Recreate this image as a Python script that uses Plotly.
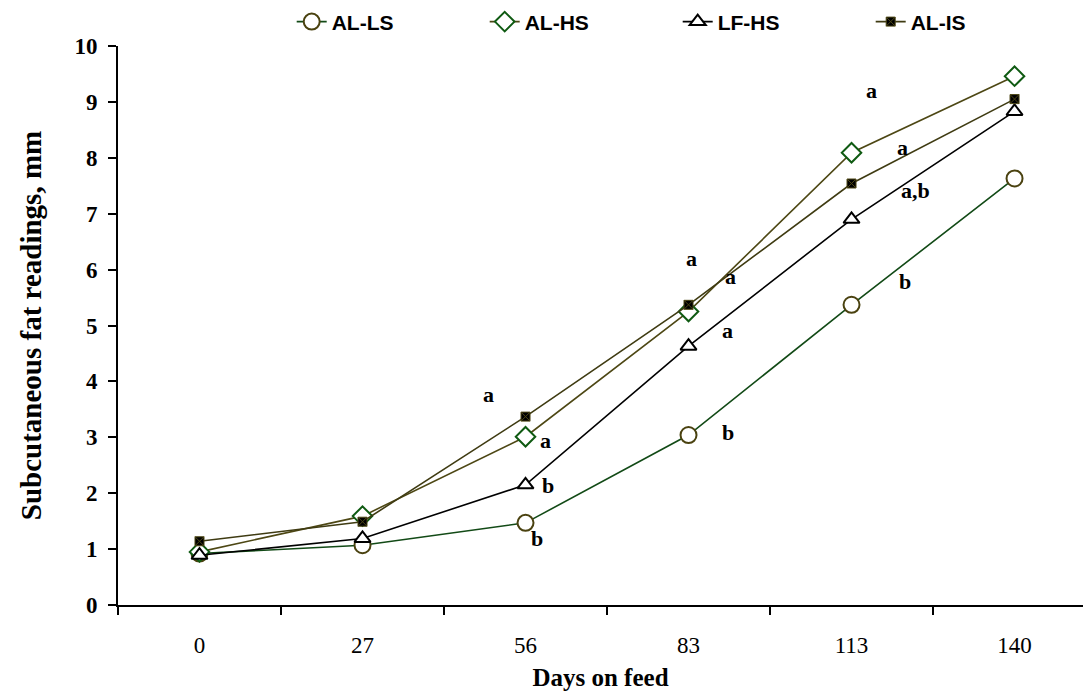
import plotly.graph_objects as go

# Days on feed (categorical x axis)
days = ["0", "27", "56", "83", "113", "140"]

# Subcutaneous fat readings (mm) per treatment
al_ls = [0.92, 1.07, 1.47, 3.04, 5.37, 7.63]
al_hs = [0.95, 1.59, 3.01, 5.25, 8.09, 9.46]
lf_hs = [0.89, 1.19, 2.15, 4.63, 6.90, 8.83]
al_is = [1.14, 1.49, 3.37, 5.37, 7.54, 9.05]

# Significance letters: (category index, y value, text)
sig_x = [1.77, 2.12, 2.135, 2.07, 3.02, 3.26, 3.24, 3.24, 4.12, 4.31, 4.39, 4.33]
sig_y = [3.76, 2.94, 2.13, 1.19, 6.19, 5.87, 4.91, 3.08, 9.20, 8.19, 7.41, 5.78]
sig_t = ["a", "a", "b", "b", "a", "a", "a", "b", "a", "a", "a,b", "b"]

SERIF = "Liberation Serif, Times New Roman, serif"
SANS = "Liberation Sans, Arial, sans-serif"

fig = go.Figure()

fig.add_trace(go.Scatter(
    x=days, y=al_ls, name="<b>AL-LS</b>", mode="lines+markers",
    line=dict(color="#124a16", width=1.6),
    marker=dict(symbol="circle", size=16, color="white",
                line=dict(color="#4a4210", width=2)),
))
fig.add_trace(go.Scatter(
    x=days, y=al_hs, name="<b>AL-HS</b>", mode="lines+markers",
    line=dict(color="#4d4714", width=1.6),
    marker=dict(symbol="diamond", size=15, color="white",
                line=dict(color="#0f5a12", width=2)),
))
fig.add_trace(go.Scatter(
    x=days, y=lf_hs, name="<b>LF-HS</b>", mode="lines+markers",
    line=dict(color="black", width=1.6),
    marker=dict(symbol="triangle-up", size=14, color="white",
                line=dict(color="black", width=2)),
))
fig.add_trace(go.Scatter(
    x=days, y=al_is, name="<b>AL-IS</b>", mode="lines+markers",
    line=dict(color="#3f3b12", width=1.6),
    marker=dict(symbol="square-x", size=9, color="black",
                line=dict(color="#4d4714", width=1)),
))

for xv, yv, tv in zip(sig_x, sig_y, sig_t):
    fig.add_annotation(
        x=xv, y=yv, text=f"<b>{tv}</b>", showarrow=False,
        font=dict(family=SERIF, size=22, color="black"),
    )

fig.update_layout(
    width=1083, height=700,
    margin=dict(l=118, r=0, t=46, b=95),
    paper_bgcolor="white", plot_bgcolor="white",
    showlegend=True,
    legend=dict(
        orientation="h", x=0.18, y=1.043, xanchor="left", yanchor="middle",
        font=dict(family=SANS, size=21, color="black"),
        entrywidth=148, entrywidthmode="pixels",
        bgcolor="rgba(0,0,0,0)", itemclick=False,
    ),
    xaxis=dict(
        type="category", range=[-0.5, 5.42],
        showline=True, linecolor="black", linewidth=2,
        ticks="outside", tickson="boundaries", ticklen=8, tickwidth=1.5,
        tickcolor="black", showgrid=False, zeroline=False,
        ticklabelstandoff=18,
        tickfont=dict(family=SERIF, size=23, color="black"),
        title=dict(text="<b>Days on feed</b>",
                   font=dict(family=SERIF, size=25, color="black"),
                   standoff=12),
    ),
    yaxis=dict(
        range=[0, 10], dtick=1,
        showline=True, linecolor="black", linewidth=2,
        ticks="outside", ticklen=8, tickwidth=1.5, tickcolor="black",
        showgrid=False, zeroline=False,
        ticklabelstandoff=6,
        tickfont=dict(family=SERIF, size=23, color="black"),
        tickprefix="<b>", ticksuffix="</b>",
        title=dict(text="<b>Subcutaneous fat readings, mm</b>",
                   font=dict(family=SERIF, size=29, color="black"),
                   standoff=24),
    ),
)

fig.write_html("out.html")
